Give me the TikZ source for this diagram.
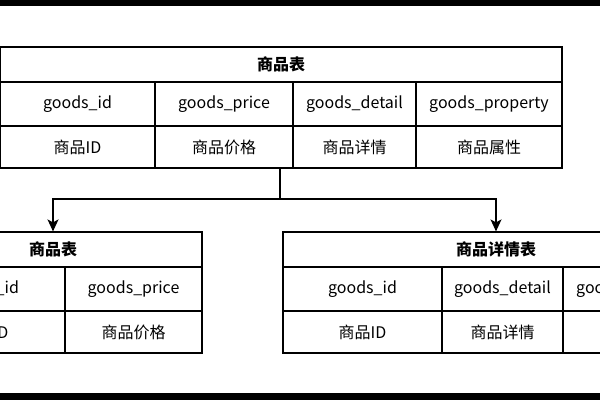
\documentclass[tikz,border=0pt]{standalone}
\usepackage{fontspec}
\setmainfont{Noto Sans CJK SC}
\usepackage{tikz}
\usetikzlibrary{arrows.meta,positioning,calc}

\tikzset{
  cell/.style={draw,line width=1.2pt,inner sep=0pt,font=\fontsize{16}{19}\selectfont},
  head/.style={cell,font=\fontsize{16}{19}\selectfont\bfseries},
  link/.style={line width=1.4pt,-{Stealth[length=12pt,width=11pt,inset=3pt]}},
}

\begin{document}
\begin{tikzpicture}[x=1pt,y=-1pt]
\useasboundingbox (0,0) rectangle (600,400);
\clip (0,0) rectangle (600,400);
\fill[black] (0,0) rectangle (600,6);
\fill[black] (0,393) rectangle (600,400);

% top table
\node[head,minimum width=562pt,minimum height=35pt] (ttitle) at (281,64.5) {商品表};
\node[cell,minimum width=155pt,minimum height=44pt] (tk1) at (77.5,104) {goods\_id};
\node[cell,minimum width=138pt,minimum height=44pt] (tk2) at (224,104) {goods\_price};
\node[cell,minimum width=123pt,minimum height=44pt] (tk3) at (354.5,104) {goods\_detail};
\node[cell,minimum width=146pt,minimum height=44pt] (tk4) at (489,104) {goods\_property};
\node[cell,minimum width=155pt,minimum height=42pt] (tv1) at (77.5,147) {商品ID};
\node[cell,minimum width=138pt,minimum height=42pt] (tv2) at (224,147) {商品价格};
\node[cell,minimum width=123pt,minimum height=42pt] (tv3) at (354.5,147) {商品详情};
\node[cell,minimum width=146pt,minimum height=42pt] (tv4) at (489,147) {商品属性};

% bottom left table
\node[head,minimum width=298pt,minimum height=35pt] (ltitle) at (53,249.5) {商品表};
\node[cell,minimum width=161pt,minimum height=44pt] (lk1) at (-15.5,289) {goods\_id};
\node[cell,minimum width=137pt,minimum height=44pt] (lk2) at (133.5,289) {goods\_price};
\node[cell,minimum width=161pt,minimum height=42pt] (lv1) at (-15.5,332) {商品ID};
\node[cell,minimum width=137pt,minimum height=42pt] (lv2) at (133.5,332) {商品价格};

% bottom right table
\node[head,minimum width=426pt,minimum height=35pt] (rtitle) at (496,249.5) {商品详情表};
\node[cell,minimum width=159pt,minimum height=44pt] (rk1) at (362.5,289) {goods\_id};
\node[cell,minimum width=121pt,minimum height=44pt] (rk2) at (502.5,289) {goods\_detail};
\node[cell,minimum width=146pt,minimum height=44pt] (rk3) at (636,289) {goods\_property};
\node[cell,minimum width=159pt,minimum height=42pt] (rv1) at (362.5,332) {商品ID};
\node[cell,minimum width=121pt,minimum height=42pt] (rv2) at (502.5,332) {商品详情};
\node[cell,minimum width=146pt,minimum height=42pt] (rv3) at (636,332) {商品属性};

% split
\coordinate (fork) at (280,199);
\draw[line width=1.4pt] (fork |- tv2.south) -- (fork);
\draw[link] (fork) -| (ltitle.north);
\draw[link] (fork) -| (rtitle.north);
\end{tikzpicture}
\end{document}
